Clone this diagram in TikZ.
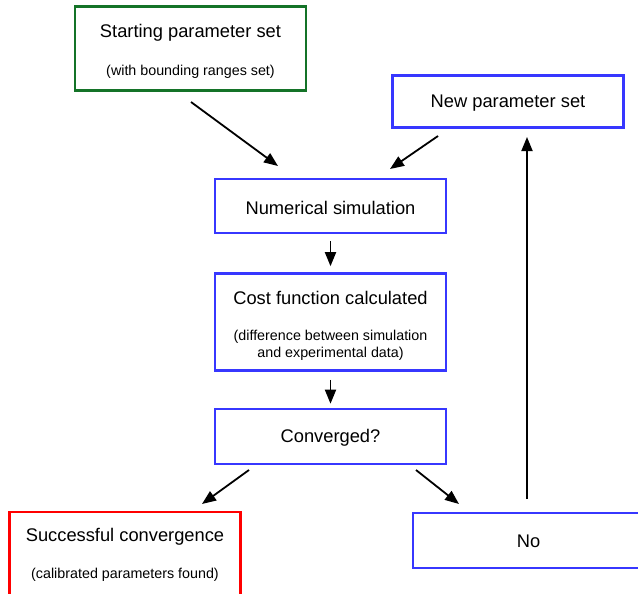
\documentclass[tikz,border=0pt]{standalone}
\usepackage{fontspec}
\setmainfont{Liberation Sans}
\usetikzlibrary{arrows.meta}
\definecolor{boxgreen}{RGB}{20,115,40}
\definecolor{boxblue}{RGB}{55,55,255}
\definecolor{boxred}{RGB}{255,0,0}
\begin{document}
\begin{tikzpicture}[x=1pt,y=-1pt,
  box/.style={draw, line width=2.6pt, rectangle, inner sep=0pt, minimum width=231pt},
  big/.style={font=\fontsize{18.3}{22}\selectfont, inner sep=0pt},
  small/.style={font=\fontsize{14.3}{17}\selectfont, inner sep=0pt, align=center},
  arr/.style={line width=1.8pt, -{Triangle[length=14pt,width=11pt]}}]
\useasboundingbox (0,0) rectangle (638,594);
\clip (0,0) rectangle (638,594);
% boxes
\node[box, draw=boxgreen, minimum height=84pt] (start) at (190.5,48.5) {};
\node[box, draw=boxblue, minimum height=52pt] (new) at (508,101.5) {};
\node[box, draw=boxblue, minimum height=54pt] (sim) at (330.5,206) {};
\node[box, draw=boxblue, minimum height=97pt] (cost) at (330.5,322) {};
\node[box, draw=boxblue, minimum height=55pt] (conv) at (330.5,436.5) {};
\node[box, draw=boxred, minimum height=108pt] (succ) at (125,566) {};
\node[box, draw=boxblue, minimum height=55pt] (no) at (528.5,540.5) {};
% texts
\node[big] (t1) at (190.5,32.5) {Starting parameter set};
\node[small] (t1s) at (190.5,71.5) {(with bounding ranges set)};
\node[big] (t2) at (508,103) {New parameter set};
\node[big] (t3) at (330.5,208) {Numerical simulation};
\node[big] (t4) at (330.5,297.5) {Cost function calculated};
\node[small] (t4s) at (330.5,345) {(difference between simulation\\and experimental data)};
\node[big] (t5) at (330.5,438) {Converged?};
\node[big] (t6) at (125,536.5) {Successful convergence};
\node[small] (t6s) at (125,575) {(calibrated parameters found)};
\node[big] (t7) at (528.5,541.5) {No};
% arrow ends
\coordinate (a1s) at (191,102);
\coordinate (a1e) at (278,166);
\coordinate (a2s) at (438,136);
\coordinate (a2e) at (390,169);
\coordinate (a5s) at (249,470);
\coordinate (a5e) at (202,504);
\coordinate (a6s) at (416,470);
\coordinate (a6e) at (459,504);
\coordinate (a7s) at (527,499);
\coordinate (a7e) at (527,137);
% connectors
\draw[arr] (a1s) -- (a1e);
\draw[arr] (a2s) -- (a2e);
\draw[arr, shorten <=7pt, shorten >=6pt] (sim.south) -- (cost.north);
\draw[arr, shorten <=8pt, shorten >=4pt] (cost.south) -- (conv.north);
\draw[arr] (a5s) -- (a5e);
\draw[arr] (a6s) -- (a6e);
\draw[arr] (a7s) -- (a7e);
\end{tikzpicture}
\end{document}
